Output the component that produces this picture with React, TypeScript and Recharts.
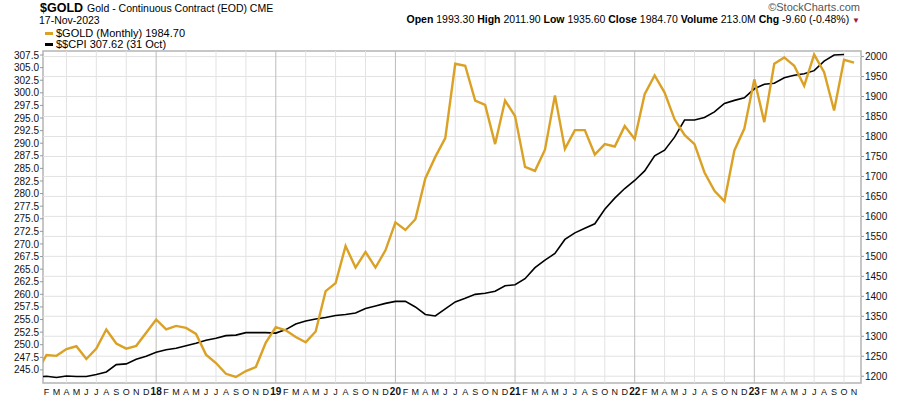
import { LineChart, Line, XAxis, YAxis, ReferenceLine, ReferenceArea, Legend } from 'recharts'

// month index 0 = Jan 2017
const monthLetters = ['J', 'F', 'M', 'A', 'M', 'J', 'J', 'A', 'S', 'O', 'N', 'D']
const yearLabels = ['17', '18', '19', '20', '21', '22', '23']

const goldClose = [
  1210, 1253, 1251, 1268, 1275, 1243, 1269, 1317, 1282, 1269, 1276, 1309,
  1342, 1317, 1326, 1321, 1306, 1254, 1233, 1206, 1198, 1213, 1223, 1284,
  1323, 1315, 1298, 1285, 1312, 1413, 1433, 1526, 1472, 1511, 1472, 1515,
  1585, 1566, 1593, 1695, 1749, 1796, 1982, 1977, 1890, 1879, 1781, 1890,
  1851, 1724, 1714, 1767, 1903, 1769, 1816, 1816, 1755, 1781, 1775, 1826,
  1794, 1906, 1953, 1910, 1843, 1804, 1781, 1710, 1664, 1638, 1765, 1820,
  1943, 1836, 1982, 1998, 1977, 1927, 2005, 1961, 1865, 1992, 1984.7,
]

const cpiValue = [
  243.6, 243.75, 243.5, 243.8, 243.7, 243.7, 244.1, 244.6, 246.05, 246.2, 247.1, 247.7,
  248.5, 249.0, 249.3, 249.8, 250.3, 250.9, 251.3, 251.8, 251.9, 252.4, 252.4, 252.4,
  252.3, 253.0, 254.1, 254.7, 255.1, 255.4, 255.8, 256.0, 256.3, 257.2, 257.7, 258.2,
  258.6, 258.6, 257.5, 256.0, 255.7, 257.1, 258.5, 259.2, 260.0, 260.2, 260.6, 261.7,
  261.9, 263.1, 265.3, 266.8, 268.1, 270.9, 272.2, 273.1, 274.0, 276.9, 279.1, 281.0,
  282.6, 284.5, 287.5, 288.6, 291.2, 294.6, 294.6, 295.1, 296.2, 297.9, 298.5, 299.0,
  300.8, 301.7, 301.9, 303.0, 303.5, 303.8, 304.4, 306.3, 307.5, 307.62,
]

const goldTicks = [1200, 1250, 1300, 1350, 1400, 1450, 1500, 1550, 1600, 1650, 1700, 1750, 1800, 1850, 1900, 1950, 2000]
const cpiTicks = [
  245, 247.5, 250, 252.5, 255, 257.5, 260, 262.5, 265, 267.5, 270, 272.5, 275,
  277.5, 280, 282.5, 285, 287.5, 290, 292.5, 295, 297.5, 300, 302.5, 305, 307.5,
]

const data = goldClose.map((g, i) => ({ i, gold: g, cpi: i < cpiValue.length ? cpiValue[i] : null }))
const monthTicks = data.map((d) => d.i).filter((i) => i > 0)
const quarterLines = monthTicks.filter((i) => i % 3 === 0)

const X_DOMAIN: [number, number] = [0.65, 82.7]
const GOLD_DOMAIN: [number, number] = [1183, 2014]
const CPI_DOMAIN: [number, number] = [242.4, 308.3]

const FONT = '"Liberation Sans", Arial, Helvetica, sans-serif'
const GOLD_COLOR = '#DBA124'

function MonthTick(props: any) {
  const { x, y, payload } = props
  const i = payload.value as number
  const isYear = i % 12 === 0
  const label = isYear ? yearLabels[i / 12] : monthLetters[i % 12]
  return (
    <text
      x={x}
      y={y + 4}
      textAnchor="middle"
      fontSize={isYear ? 10 : 9}
      fontWeight={isYear ? 'bold' : 'normal'}
      fill="#111"
      fontFamily={FONT}
    >
      {label}
    </text>
  )
}

function ChartLegend() {
  return (
    <div style={{ fontFamily: FONT, fontSize: 11, lineHeight: '11px', color: '#000' }}>
      <div style={{ display: 'flex', alignItems: 'center' }}>
        <span style={{ display: 'inline-block', width: 8, height: 3, background: GOLD_COLOR, marginRight: 3 }} />
        $GOLD (Monthly) 1984.70
      </div>
      <div style={{ display: 'flex', alignItems: 'center' }}>
        <span style={{ display: 'inline-block', width: 8, height: 3, background: '#000', marginRight: 3 }} />
        $$CPI 307.62 (31 Oct)
      </div>
    </div>
  )
}

export default function App() {
  return (
    <div style={{ position: 'absolute', left: 0, top: 0, width: 900, height: 398, background: '#fff', fontFamily: FONT }}>
      <div style={{ position: 'absolute', left: 40, top: 0, whiteSpace: 'nowrap', lineHeight: '13px' }}>
        <span style={{ fontSize: 12.5, fontWeight: 'bold' }}>$GOLD</span>
        <span style={{ fontSize: 10.5, marginLeft: 4 }}>Gold - Continuous Contract (EOD) CME</span>
      </div>
      <div style={{ position: 'absolute', left: 39, top: 15, fontSize: 10.5, lineHeight: '10px' }}>17-Nov-2023</div>
      <div style={{ position: 'absolute', right: 40, top: 2, fontSize: 11, color: '#555', lineHeight: '11px' }}>
        ©StockCharts.com
      </div>
      <div style={{ position: 'absolute', right: 40, top: 14, fontSize: 10.5, lineHeight: '11px', whiteSpace: 'nowrap' }}>
        <b>Open</b> 1993.30 <b>High</b> 2011.90 <b>Low</b> 1935.60 <b>Close</b> 1984.70 <b>Volume</b> 213.0M{' '}
        <b>Chg</b> -9.60 (-0.48%) <span style={{ color: '#a0143c', fontSize: 8 }}>▼</span>
      </div>
      <LineChart width={900} height={398} data={data} margin={{ top: 29, right: 0, bottom: 0, left: 0 }}>
        <XAxis
          dataKey="i"
          type="number"
          domain={X_DOMAIN}
          allowDataOverflow
          ticks={monthTicks}
          interval={0}
          tick={<MonthTick />}
          tickLine={false}
          axisLine={false}
          height={15}
          xAxisId="t"
        />
        <YAxis
          yAxisId="cpi"
          orientation="left"
          domain={CPI_DOMAIN}
          allowDataOverflow
          ticks={cpiTicks}
          interval={0}
          width={43}
          tickSize={3}
          tickMargin={1}
          tickLine={{ stroke: '#999' }}
          axisLine={false}
          tickFormatter={(v: number) => v.toFixed(1)}
          tick={{ fontSize: 10, fill: '#111', fontFamily: FONT }}
        />
        <YAxis
          yAxisId="gold"
          orientation="right"
          domain={GOLD_DOMAIN}
          allowDataOverflow
          ticks={goldTicks}
          interval={0}
          width={39}
          tickSize={3}
          tickMargin={1}
          tickLine={{ stroke: '#999' }}
          axisLine={false}
          tick={{ fontSize: 10, fill: '#111', fontFamily: FONT }}
        />
        {goldTicks.map((v) => (
          <ReferenceLine key={'h' + v} yAxisId="gold" xAxisId="t" y={v} stroke="#e2e2e2" strokeWidth={1} />
        ))}
        {quarterLines.map((i) => (
          <ReferenceLine
            key={'v' + i}
            yAxisId="gold"
            xAxisId="t"
            x={i}
            stroke={i % 12 === 0 ? '#bdbdbd' : '#e2e2e2'}
            strokeWidth={1}
          />
        ))}
        <ReferenceArea
          yAxisId="gold"
          xAxisId="t"
          x1={X_DOMAIN[0]}
          x2={X_DOMAIN[1]}
          y1={GOLD_DOMAIN[0]}
          y2={GOLD_DOMAIN[1]}
          fill="none"
          fillOpacity={0}
          stroke="#b4b4b4"
          strokeWidth={1.5}
        />
        <Line
          yAxisId="cpi"
          xAxisId="t"
          dataKey="cpi"
          stroke="#000"
          strokeWidth={1.6}
          dot={false}
          isAnimationActive={false}
          type="linear"
        />
        <Line
          yAxisId="gold"
          xAxisId="t"
          dataKey="gold"
          stroke={GOLD_COLOR}
          strokeWidth={2.4}
          dot={false}
          isAnimationActive={false}
          type="linear"
        />
        <Legend
          verticalAlign="top"
          align="left"
          content={<ChartLegend />}
          wrapperStyle={{ position: 'absolute', top: 28, left: 45, width: 'auto' }}
        />
      </LineChart>
    </div>
  )
}
